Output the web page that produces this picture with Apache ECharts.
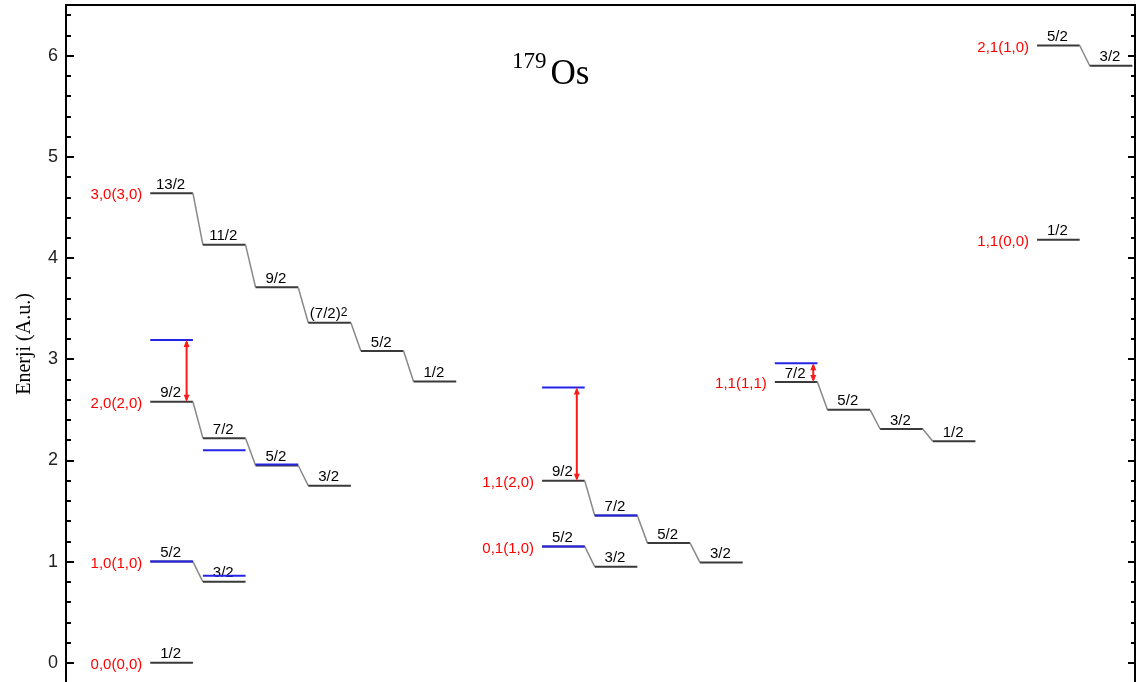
<!DOCTYPE html>
<html><head><meta charset="utf-8">
<script src="https://cdn.jsdelivr.net/npm/echarts@6/dist/echarts.min.js"></script>
<style>html,body{margin:0;padding:0;background:#fff}#c{width:1147px;height:682px}</style>
</head><body><div id="c"></div>
<script>
// ---- data ----
const bandNames = ['3,0(3,0)', '2,0(2,0)', '1,0(1,0)', '0,0(0,0)', '1,1(2,0)', '0,1(1,0)', '1,1(1,1)', '2,1(1,0)', '1,1(0,0)'];
const bandStartX = [1.6, 1.6, 1.6, 1.6, 9.04, 9.04, 13.46, 18.44, 18.44];
const bandSpins = [
  ['13/2', '11/2', '9/2', '(7/2)^2', '5/2', '1/2'],
  ['9/2', '7/2', '5/2', '3/2'],
  ['5/2', '3/2'],
  ['1/2'],
  ['9/2', '7/2', '5/2', '3/2'],
  ['5/2', '3/2'],
  ['7/2', '5/2', '3/2', '1/2'],
  ['5/2', '3/2'],
  ['1/2']
];
const bandEnergies = [
  [4.64, 4.13, 3.71, 3.36, 3.08, 2.78],
  [2.58, 2.22, 1.95, 1.75],
  [1.00, 0.80],
  [0.00],
  [1.80, 1.455, 1.185, 0.99],
  [1.15, 0.95],
  [2.775, 2.50, 2.31, 2.19],
  [6.10, 5.90],
  [4.18]
];
const blueX = [1.6, 2.6, 3.6, 1.6, 2.6, 9.04, 10.04, 9.04, 13.46];
const blueE = [3.19, 2.10, 1.96, 1.00, 0.86, 2.72, 1.455, 1.15, 2.96];
const arrowX = [2.29, 9.70, 14.19];
const arrowLow = [2.58, 1.80, 2.775];
const arrowHigh = [3.19, 2.72, 2.96];
const yTickLabels = ['0', '1', '2', '3', '4', '5', '6'];
const levelWidth = 0.81;

// ---- build series data ----
const levelData = [];
bandNames.forEach((name, b) => {
  bandEnergies[b].forEach((e, i) => levelData.push([bandStartX[b] + i, e, b, i]));
});
const blueData = blueX.map((x, i) => [x, blueE[i]]);
const arrowData = arrowX.map((x, i) => [x, arrowLow[i], arrowHigh[i]]);

const LABEL_FONT = 'Liberation Sans';

function spinText(s) {
  const m = s.split('^');
  return m.length > 1 ? m[0] + '{sup|' + m[1] + '}' : s;
}

function renderLevel(params, api) {
  const x = api.value(0), e = api.value(1), b = api.value(2), i = api.value(3);
  const p1 = api.coord([x, e]);
  const p2 = api.coord([x + levelWidth, e]);
  const children = [];
  if (i > 0) {
    const prevE = bandEnergies[b][i - 1];
    const q = api.coord([x - 1 + levelWidth, prevE]);
    children.push({type: 'line', shape: {x1: q[0], y1: q[1], x2: p1[0], y2: p1[1]},
      style: {stroke: '#888', lineWidth: 1.5}});
  }
  children.push({type: 'line', shape: {x1: p1[0], y1: p1[1], x2: p2[0], y2: p2[1]},
    style: {stroke: '#3a3a3a', lineWidth: 2}});
  children.push({type: 'text', x: (p1[0] + p2[0]) / 2 - 1, y: p1[1] - 1,
    style: {text: spinText(bandSpins[b][i]), align: 'center', verticalAlign: 'bottom',
      fontSize: 15, fontFamily: LABEL_FONT, fill: '#000',
      rich: {sup: {fontSize: 12, fontFamily: LABEL_FONT, verticalAlign: 'top', lineHeight: 10, fill: '#000'}}}});
  if (i === 0) {
    children.push({type: 'text', x: p1[0] - 8, y: p1[1] + 2,
      style: {text: bandNames[b], align: 'right', verticalAlign: 'middle',
        fontSize: 15, fontFamily: LABEL_FONT, fill: '#ff0000'}});
  }
  return {type: 'group', children};
}

function renderBlue(params, api) {
  const x = api.value(0), e = api.value(1);
  const p1 = api.coord([x, e]);
  const p2 = api.coord([x + levelWidth, e]);
  return {type: 'line', shape: {x1: p1[0], y1: p1[1], x2: p2[0], y2: p2[1]},
    style: {stroke: '#2424e6', lineWidth: 2}};
}

function renderArrow(params, api) {
  const x = api.value(0);
  const lo = api.coord([x, api.value(1)]);
  const hi = api.coord([x, api.value(2)]);
  const h = 7, w = 3;
  return {type: 'group', children: [
    {type: 'line', shape: {x1: lo[0], y1: lo[1] - 2, x2: hi[0], y2: hi[1] + 2}, style: {stroke: '#ff1a1a', lineWidth: 2}},
    {type: 'polygon', shape: {points: [[hi[0], hi[1]], [hi[0] - w, hi[1] + h], [hi[0] + w, hi[1] + h]]}, style: {fill: '#ff1a1a'}},
    {type: 'polygon', shape: {points: [[lo[0], lo[1]], [lo[0] - w, lo[1] - h], [lo[0] + w, lo[1] - h]]}, style: {fill: '#ff1a1a'}}
  ]};
}

const chart = echarts.init(document.getElementById('c'), null, {renderer: 'canvas'});
const yBase = {
  type: 'value', min: -1, max: 6.5, interval: 1,
  axisLine: {show: true, onZero: false, lineStyle: {color: '#000', width: 2}},
  splitLine: {show: false}
};
chart.setOption({
  animation: false,
  backgroundColor: '#fff',
  grid: {left: 66, right: 12, top: 5, bottom: -82, outerBoundsMode: 'none', containLabel: false},
  xAxis: {type: 'value', min: 0, max: 20.3, position: 'top',
    axisLine: {show: true, onZero: false, lineStyle: {color: '#000', width: 2}},
    axisTick: {show: false}, axisLabel: {show: false}, splitLine: {show: false}},
  yAxis: [
    Object.assign({}, yBase, {position: 'left',
      axisTick: {show: true, inside: true, length: 8, lineStyle: {color: '#000', width: 2}},
      minorTick: {show: true, splitNumber: 5, length: 5, lineStyle: {color: '#000', width: 2}},
      axisLabel: {show: true, margin: 8, fontSize: 18, fontFamily: LABEL_FONT, color: '#222',
        formatter: v => (Number.isInteger(v) && v >= 0 && v < yTickLabels.length) ? yTickLabels[v] : ''}}),
    Object.assign({}, yBase, {position: 'right',
      axisTick: {show: true, inside: true, length: 7, lineStyle: {color: '#000', width: 2}},
      minorTick: {show: true, splitNumber: 5, length: 4, lineStyle: {color: '#000', width: 2}},
      axisLabel: {show: false}})
  ],
  graphic: [
    {type: 'text', left: 512, top: 50,
      style: {text: '{a|179}{b|Os}', fill: '#000',
        rich: {a: {fontSize: 23, fontFamily: 'Liberation Serif', verticalAlign: 'top', lineHeight: 24, fill: '#000', padding: [0, 4, 0, 0]},
               b: {fontSize: 35, fontFamily: 'Liberation Serif', verticalAlign: 'bottom', lineHeight: 42, fill: '#000'}}}},
    {type: 'text', x: 25, y: 344, rotation: Math.PI / 2,
      style: {text: 'Enerji (A.u.)', align: 'center', verticalAlign: 'middle',
        fontSize: 20, fontFamily: 'Liberation Serif', fill: '#000'}}
  ],
  series: [
    {type: 'custom', coordinateSystem: 'cartesian2d', renderItem: renderLevel, data: levelData,
      encode: {x: 0, y: 1}, clip: false, silent: true},
    {type: 'custom', coordinateSystem: 'cartesian2d', renderItem: renderBlue, data: blueData,
      encode: {x: 0, y: 1}, silent: true},
    {type: 'custom', coordinateSystem: 'cartesian2d', renderItem: renderArrow, data: arrowData,
      encode: {x: 0, y: [1, 2]}, silent: true}
  ]
});
</script></body></html>
